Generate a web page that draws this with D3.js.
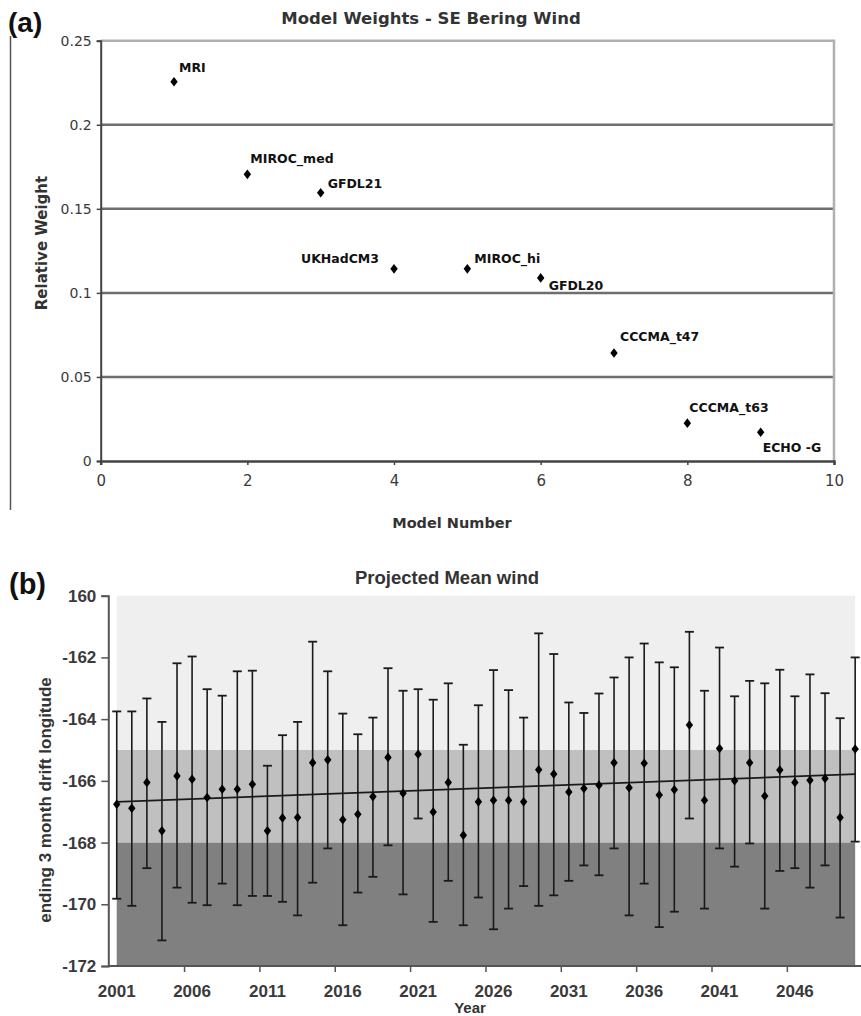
<!DOCTYPE html>
<html>
<head>
<meta charset="utf-8">
<script src="https://cdn.jsdelivr.net/npm/d3@7"></script>
<style>
  body { margin: 0; background: #fff; }
  svg { display: block; }
</style>
</head>
<body>
<div id="chart"></div>
<script>
// panel (a) data
const modelNumbers = [1, 2, 3, 4, 5, 6, 7, 8, 9];
const modelNames = ["MRI", "MIROC_med", "GFDL21", "UKHadCM3", "MIROC_hi", "GFDL20", "CCCMA_t47", "CCCMA_t63", "ECHO -G"];
const modelWeights = [0.2256, 0.1705, 0.1596, 0.1143, 0.1143, 0.1089, 0.0642, 0.0225, 0.0171];
const weightTicks = [0, 0.05, 0.1, 0.15, 0.2, 0.25];
const modelTicks = [0, 2, 4, 6, 8, 10];

// panel (b) data
const years = [2001, 2002, 2003, 2004, 2005, 2006, 2007, 2008, 2009, 2010,
  2011, 2012, 2013, 2014, 2015, 2016, 2017, 2018, 2019, 2020,
  2021, 2022, 2023, 2024, 2025, 2026, 2027, 2028, 2029, 2030,
  2031, 2032, 2033, 2034, 2035, 2036, 2037, 2038, 2039, 2040,
  2041, 2042, 2043, 2044, 2045, 2046, 2047, 2048, 2049, 2050];
const windMean = [-166.76, -166.89, -166.05, -167.62, -165.84, -165.95, -166.54, -166.27, -166.27, -166.11,
  -167.62, -167.20, -167.19, -165.41, -165.32, -167.26, -167.08, -166.51, -165.24, -166.40,
  -165.14, -167.01, -166.05, -167.76, -166.68, -166.63, -166.63, -166.68, -165.64, -165.78,
  -166.36, -166.25, -166.14, -165.41, -166.22, -165.43, -166.46, -166.29, -164.19, -166.63,
  -164.95, -166.00, -165.41, -166.49, -165.65, -166.05, -165.98, -165.92, -167.19, -164.97];
const windHigh = [-163.75, -163.75, -163.33, -164.09, -162.19, -161.97, -163.03, -163.24, -162.45, -162.43,
  -165.51, -164.52, -164.09, -161.49, -162.45, -163.82, -164.49, -163.95, -162.35, -163.08,
  -163.03, -163.37, -162.84, -164.83, -163.55, -162.41, -163.06, -163.95, -161.22, -161.89,
  -163.46, -163.80, -163.17, -162.65, -162.00, -161.55, -162.16, -162.32, -161.17, -163.08,
  -161.68, -163.26, -162.76, -162.84, -162.40, -163.26, -162.55, -163.16, -163.97, -162.00];
const windLow = [-169.82, -170.05, -168.83, -171.17, -169.46, -169.95, -170.03, -169.33, -170.03, -169.73,
  -169.73, -169.92, -170.36, -169.30, -168.19, -170.68, -169.62, -169.11, -168.09, -169.68,
  -167.22, -170.57, -169.24, -170.68, -169.78, -170.81, -170.14, -169.41, -170.05, -169.71,
  -169.24, -168.74, -169.06, -168.19, -170.36, -169.33, -170.74, -170.24, -167.22, -170.14,
  -168.19, -168.78, -168.03, -170.14, -168.92, -168.83, -169.46, -168.74, -170.43, -167.97];
const bandEdges = [-160, -165, -168, -172];
const bandColors = ["#efefef", "#c0c0c0", "#808080"];
const lonTicks = [-160, -162, -164, -166, -168, -170, -172];
const yearTickLabels = [2001, 2006, 2011, 2016, 2021, 2026, 2031, 2036, 2041, 2046];

// label placement for panel (a): dx, dy, anchor
const labelOffsets = [[5, -10, "start"], [3, -11, "start"], [7, -5, "start"], [-15, -6, "end"],
  [7, -6, "start"], [8, 12, "start"], [6, -12, "start"], [2, -11, "start"], [2, 20, "start"]];

const W = 861, H = 1016;
const svg = d3.select("#chart").append("svg").attr("width", W).attr("height", H);

const fontA = "'DejaVu Sans', sans-serif";
const fontB = "'Liberation Sans', Arial, sans-serif";
const diamond = "M0,-4.8L3.7,0L0,4.8L-3.7,0Z";

// ---------- panel (a) ----------
const xA = d3.scaleLinear().domain([0, 10]).range([100.7, 834]);
const yA = d3.scaleLinear().domain([0, 0.25]).range([461, 40.7]);

const gA = svg.append("g");

gA.selectAll("line.grid")
  .data(weightTicks.filter(d => d > 0 && d < 0.25))
  .enter().append("line")
  .attr("x1", xA(0)).attr("x2", xA(10))
  .attr("y1", d => yA(d)).attr("y2", d => yA(d))
  .attr("stroke", "#6e6e6e").attr("stroke-width", 2.5);

// top and right frame
gA.append("path")
  .attr("d", `M${xA(0)},${yA(0.25)}H${xA(10)}V${yA(0)}`)
  .attr("fill", "none").attr("stroke", "#b0b0b0").attr("stroke-width", 2.5);

const axA_y = gA.append("g").attr("transform", `translate(${xA(0)},0)`)
  .call(d3.axisLeft(yA).tickValues(weightTicks).tickSize(4).tickPadding(5)
    .tickFormat(d => d3.format("")(+d.toFixed(2))));
axA_y.select(".domain").attr("stroke", "#444").attr("stroke-width", 2);
axA_y.selectAll(".tick line").attr("stroke", "#444").attr("stroke-width", 1.5);
axA_y.selectAll("text").attr("font-family", fontA).attr("font-size", 14).attr("fill", "#3a3a3a");

const axA_x = gA.append("g").attr("transform", `translate(0,${yA(0)})`)
  .call(d3.axisBottom(xA).tickValues(modelTicks).tickSize(4).tickPadding(10));
axA_x.select(".domain").attr("stroke", "#444").attr("stroke-width", 2.5);
axA_x.selectAll(".tick line").attr("stroke", "#444").attr("stroke-width", 1.5);
axA_x.selectAll("text").attr("font-family", fontA).attr("font-size", 15).attr("fill", "#3a3a3a");

gA.selectAll("path.pt")
  .data(modelNumbers)
  .enter().append("path")
  .attr("d", diamond)
  .attr("transform", (d, i) => `translate(${xA(d)},${yA(modelWeights[i])})`)
  .attr("fill", "#000");

gA.selectAll("text.lbl")
  .data(modelNumbers)
  .enter().append("text")
  .attr("x", (d, i) => xA(d) + labelOffsets[i][0])
  .attr("y", (d, i) => yA(modelWeights[i]) + labelOffsets[i][1])
  .attr("text-anchor", (d, i) => labelOffsets[i][2])
  .attr("font-family", fontA).attr("font-weight", "bold").attr("font-size", 12.5)
  .attr("fill", "#111")
  .text((d, i) => modelNames[i]);

gA.append("text")
  .attr("x", 431).attr("y", 24)
  .attr("text-anchor", "middle")
  .attr("font-family", fontA).attr("font-weight", "bold").attr("font-size", 16.5)
  .attr("fill", "#333")
  .text("Model Weights - SE Bering Wind");

gA.append("text")
  .attr("transform", "translate(47,243) rotate(-90)")
  .attr("text-anchor", "middle")
  .attr("font-family", fontA).attr("font-weight", "bold").attr("font-size", 15)
  .attr("fill", "#333")
  .text("Relative Weight");

gA.append("text")
  .attr("x", 452).attr("y", 528)
  .attr("text-anchor", "middle")
  .attr("font-family", fontA).attr("font-weight", "bold").attr("font-size", 14.5)
  .attr("fill", "#333")
  .text("Model Number");

gA.append("line")
  .attr("x1", 10.5).attr("x2", 10.5).attr("y1", 36).attr("y2", 510)
  .attr("stroke", "#555").attr("stroke-width", 1.5);

svg.append("text")
  .attr("x", 8).attr("y", 32)
  .attr("font-family", fontB).attr("font-weight", "bold").attr("font-size", 28)
  .attr("fill", "#111")
  .text("(a)");

// ---------- panel (b) ----------
const xB = d3.scaleBand().domain(years).range([109.2, 862.7]).paddingInner(0).paddingOuter(0);
const cx = d => xB(d) + xB.bandwidth() / 2;
const yB = d3.scaleLinear().domain([-172, -160]).range([966, 595.7]);

const gB = svg.append("g");

gB.selectAll("rect.band")
  .data(bandColors)
  .enter().append("rect")
  .attr("x", cx(years[0]))
  .attr("width", cx(years[years.length - 1]) - cx(years[0]))
  .attr("y", (d, i) => yB(bandEdges[i]))
  .attr("height", (d, i) => yB(bandEdges[i + 1]) - yB(bandEdges[i]))
  .attr("fill", d => d);

// linear trend of the means
const n = years.length;
const mx = d3.mean(years), my = d3.mean(windMean);
const slope = d3.sum(years, (d, i) => (d - mx) * (windMean[i] - my)) / d3.sum(years, d => (d - mx) * (d - mx));
const icpt = my - slope * mx;

const eb = gB.selectAll("g.eb")
  .data(years)
  .enter().append("g");
eb.append("line")
  .attr("x1", d => cx(d)).attr("x2", d => cx(d))
  .attr("y1", (d, i) => yB(windHigh[i])).attr("y2", (d, i) => yB(windLow[i]))
  .attr("stroke", "#1a1a1a").attr("stroke-width", 1.6);
eb.append("line")
  .attr("x1", d => cx(d) - 4.5).attr("x2", d => cx(d) + 4.5)
  .attr("y1", (d, i) => yB(windHigh[i])).attr("y2", (d, i) => yB(windHigh[i]))
  .attr("stroke", "#1a1a1a").attr("stroke-width", 1.8);
eb.append("line")
  .attr("x1", d => cx(d) - 4.5).attr("x2", d => cx(d) + 4.5)
  .attr("y1", (d, i) => yB(windLow[i])).attr("y2", (d, i) => yB(windLow[i]))
  .attr("stroke", "#1a1a1a").attr("stroke-width", 1.8);

gB.append("line")
  .attr("x1", cx(years[0])).attr("x2", cx(years[n - 1]))
  .attr("y1", yB(icpt + slope * years[0])).attr("y2", yB(icpt + slope * years[n - 1]))
  .attr("stroke", "#1a1a1a").attr("stroke-width", 1.8);

gB.selectAll("path.pt")
  .data(years)
  .enter().append("path")
  .attr("d", diamond)
  .attr("transform", (d, i) => `translate(${cx(d)},${yB(windMean[i])})`)
  .attr("fill", "#000");

const axB_y = gB.append("g").attr("transform", "translate(108.3,0)")
  .call(d3.axisLeft(yB).tickValues(lonTicks).tickSize(7).tickPadding(5)
    .tickFormat(d => d === -160 ? "160" : String(d)));
axB_y.select(".domain").attr("stroke", "#555").attr("stroke-width", 2);
axB_y.selectAll(".tick line").attr("stroke", "#555").attr("stroke-width", 1.5);
axB_y.selectAll("text").attr("font-family", fontB).attr("font-weight", "bold")
  .attr("font-size", 17).attr("fill", "#3a3a3a");

// category axis: ticks between categories every 5 years, labels at the categories
const axB_x = gB.append("g").attr("transform", `translate(0,${yB(-172)})`);
axB_x.append("line")
  .attr("x1", 108.3).attr("x2", W)
  .attr("stroke", "#555").attr("stroke-width", 2);
axB_x.selectAll("line.tk")
  .data(yearTickLabels.slice(1))
  .enter().append("line")
  .attr("x1", d => xB(d)).attr("x2", d => xB(d))
  .attr("y1", 0).attr("y2", 6)
  .attr("stroke", "#555").attr("stroke-width", 1.5);
axB_x.selectAll("text")
  .data(yearTickLabels)
  .enter().append("text")
  .attr("x", d => cx(d)).attr("y", 31)
  .attr("text-anchor", "middle")
  .attr("font-family", fontB).attr("font-weight", "bold").attr("font-size", 17)
  .attr("fill", "#3a3a3a")
  .text(d => d);

gB.append("text")
  .attr("x", 447).attr("y", 584)
  .attr("text-anchor", "middle")
  .attr("font-family", fontB).attr("font-weight", "bold").attr("font-size", 18.5)
  .attr("fill", "#333")
  .text("Projected Mean wind");

gB.append("text")
  .attr("transform", "translate(51,800) rotate(-90)")
  .attr("text-anchor", "middle")
  .attr("font-family", fontB).attr("font-weight", "bold").attr("font-size", 17)
  .attr("fill", "#333")
  .text("ending 3 month drift longitude");

gB.append("text")
  .attr("x", 470).attr("y", 1013)
  .attr("text-anchor", "middle")
  .attr("font-family", fontB).attr("font-weight", "bold").attr("font-size", 15)
  .attr("fill", "#333")
  .text("Year");

svg.append("text")
  .attr("x", 9).attr("y", 594)
  .attr("font-family", fontB).attr("font-weight", "bold").attr("font-size", 29)
  .attr("fill", "#111")
  .text("(b)");
</script>
</body>
</html>
